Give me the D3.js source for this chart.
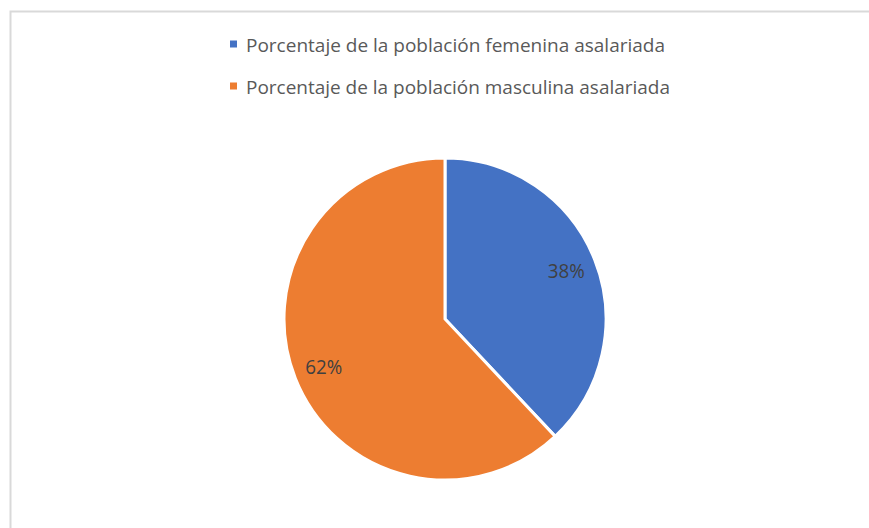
<!DOCTYPE html>
<html>
<head>
<meta charset="utf-8">
<script src="https://cdn.jsdelivr.net/npm/d3@7"></script>
<style>
  body { margin: 0; background: #fff; }
  svg { display: block; }
</style>
</head>
<body>
<svg id="chart"></svg>
<script>
// data
const categories = [
  "Porcentaje de la población femenina asalariada",
  "Porcentaje de la población masculina asalariada"
];
const values = [38, 62];
const colors = ["#4472C4", "#ED7D31"];

const width = 869, height = 528;
const svg = d3.select("#chart").attr("width", width).attr("height", height);

// chart frame
svg.append("rect")
  .attr("x", 10.5).attr("y", 11.5)
  .attr("width", 900).attr("height", 600)
  .attr("fill", "none")
  .attr("stroke", "#d9d9d9")
  .attr("stroke-width", 2);

// legend
const legend = svg.append("g").attr("transform", "translate(230,0)");
const rows = legend.selectAll("g")
  .data(categories)
  .enter()
  .append("g")
  .attr("transform", (d, i) => "translate(0," + (44 + i * 42) + ")");

rows.append("rect")
  .attr("x", 0).attr("y", -3.5)
  .attr("width", 7).attr("height", 7)
  .attr("fill", (d, i) => colors[i]);

rows.append("text")
  .attr("x", 16).attr("y", 8)
  .attr("font-family", "'Open Sans', sans-serif")
  .attr("font-size", 18.5)
  .attr("fill", "#595959")
  .attr("textLength", (d, i) => i === 0 ? 419 : 424)
  .attr("lengthAdjust", "spacingAndGlyphs")
  .text(d => d);

// pie
const cx = 445, cy = 319, r = 161;
const pie = d3.pie().sort(null).value(d => d);
const arc = d3.arc().innerRadius(0).outerRadius(r);
const labelArc = d3.arc().innerRadius(r * 0.81).outerRadius(r * 0.81);

const g = svg.append("g").attr("transform", "translate(" + cx + "," + cy + ")");

const slices = g.selectAll(".slice")
  .data(pie(values))
  .enter()
  .append("g")
  .attr("class", "slice");

slices.append("path")
  .attr("d", arc)
  .attr("fill", (d, i) => colors[i])
  .attr("stroke", "#fff")
  .attr("stroke-width", 3)
  .attr("stroke-linejoin", "miter");

slices.append("text")
  .attr("transform", d => "translate(" + labelArc.centroid(d) + ")")
  .attr("text-anchor", "middle")
  .attr("dy", "0.36em")
  .attr("font-family", "'Open Sans', sans-serif")
  .attr("font-size", 19.5)
  .attr("fill", "#404040")
  .attr("textLength", 37)
  .attr("lengthAdjust", "spacingAndGlyphs")
  .text(d => d.data + "%");
</script>
</body>
</html>
